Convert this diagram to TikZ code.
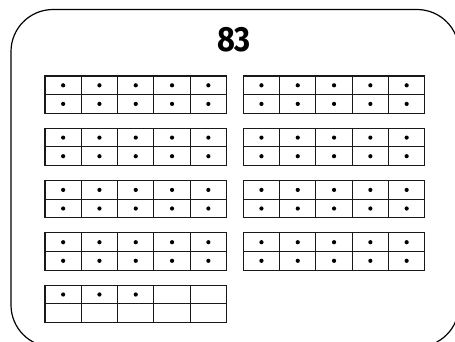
\documentclass[tikz,border=0pt]{standalone}
\usepackage{fontspec}
\newfontfamily\titlefont{Fira Sans}
\usetikzlibrary{positioning}

\begin{document}
\begin{tikzpicture}[x=1pt, y=-1pt,
    cell/.style={rectangle, draw=black!90, line width=1.1pt, minimum width=36.3pt, minimum height=18.6pt, inner sep=0pt, outer sep=0pt},
    dot/.style={circle, fill=black, inner sep=0pt, minimum size=4.2pt}]
\useasboundingbox (0,0) rectangle (455,341);
\begin{scope}
\clip (0,0) rectangle (455,341);
\draw[line width=1.2pt, rounded corners=42pt] (11,9.5) rectangle (459,347);
\end{scope}
\node[font=\titlefont\bfseries\fontsize{35}{35}\selectfont, xscale=0.88] (title) at (234,40) {83};
% ten frames, two columns
\foreach \k in {0,...,8} {
  \pgfmathsetmacro\fx{45+198.3*mod(\k,2)}
  \pgfmathsetmacro\fy{76+52.3*floor(\k/2)}
  \foreach \r in {0,1} \foreach \c in {0,...,4}
    \node[cell] (f\k-\r\c) at (\fx+18.15+36.3*\c, \fy+9.3+18.6*\r) {};
}
\foreach \k in {0,...,7} \foreach \r in {0,1} \foreach \c in {0,...,4}
  \node[dot] (d\k-\r\c) at (f\k-\r\c) {};
\foreach \c in {0,1,2}
  \node[dot] (d8-0\c) at (f8-0\c) {};
\end{tikzpicture}
\end{document}
